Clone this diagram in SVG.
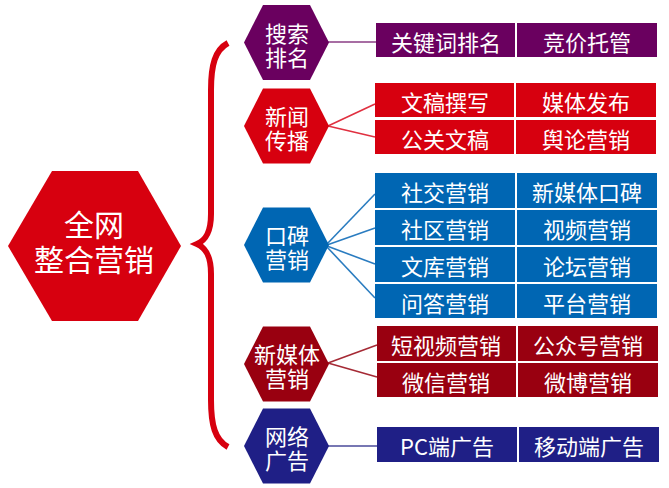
<svg xmlns="http://www.w3.org/2000/svg" width="669" height="488" viewBox="0 0 669 488">
<style>
text{font-family:"Noto Sans CJK SC","Noto Sans",sans-serif;fill:#fff;text-anchor:middle;dominant-baseline:central}
.b{font-size:22px}
.h{font-size:22px}
.m{font-size:30px}
.pur{fill:#6a005f}
.red{fill:#d7000f}
.blu{fill:#0066b3}
.drd{fill:#990010}
.nav{fill:#1f1f86}
#connectors line{stroke-width:1.6}
</style>
<rect width="669" height="488" fill="#fff"/>
<g id="connectors">
<path d="M228,43 C215,50 211,65 211,90 L211,214 C211,232 206,240 197,244 C206,248 211,256 211,274 L211,400 C211,425 215,440 228,447" fill="none" stroke="#d7000f" stroke-width="6"/>
<line x1="328" y1="42" x2="376" y2="42" stroke="#8a3d84"/>
<line x1="328" y1="126" x2="375" y2="104" stroke="#e03040"/>
<line x1="328" y1="126" x2="375" y2="137" stroke="#e03040"/>
<line x1="327" y1="244" x2="375" y2="194" stroke="#2a7cc0"/>
<line x1="327" y1="245" x2="375" y2="228" stroke="#2a7cc0"/>
<line x1="327" y1="246" x2="375" y2="264" stroke="#2a7cc0"/>
<line x1="327" y1="247" x2="375" y2="298" stroke="#2a7cc0"/>
<line x1="328" y1="363" x2="377" y2="345" stroke="#a52a35"/>
<line x1="328" y1="363" x2="377" y2="377" stroke="#a52a35"/>
<line x1="328" y1="446" x2="377" y2="446" stroke="#4a4a9a"/>
</g>
<g id="main">
<polygon class="red" points="8,246 52,171 138,171 181,246 138,321 52,321"/>
<text class="m" x="94" y="222.5">全网<tspan x="94" dy="35.5">整合营销</tspan></text>
</g>
<g id="search">
<polygon class="pur" points="244,42.5 263,5 310,5 329,42.5 310,80 263,80"/>
<text class="h" x="287" y="31.5">搜索<tspan x="287" dy="24">排名</tspan></text>
</g>
<g id="news">
<polygon class="red" points="244,126 263,88.5 310,88.5 329,126 310,163.5 263,163.5"/>
<text class="h" x="287" y="115">新闻<tspan x="287" dy="24">传播</tspan></text>
</g>
<g id="wom">
<polygon class="blu" points="244,245 263,207.5 310,207.5 329,245 310,282.5 263,282.5"/>
<text class="h" x="287" y="234">口碑<tspan x="287" dy="24">营销</tspan></text>
</g>
<g id="newmedia">
<polygon class="drd" points="244,364 263,326.5 310,326.5 329,364 310,401.5 263,401.5"/>
<text class="h" x="287" y="353">新媒体<tspan x="287" dy="24">营销</tspan></text>
</g>
<g id="netad">
<polygon class="nav" points="244,446 263,408.5 310,408.5 329,446 310,483.5 263,483.5"/>
<text class="h" x="287" y="435">网络<tspan x="287" dy="24">广告</tspan></text>
</g>
<g id="b-keyword"><rect class="pur" x="376" y="23" width="139" height="34"/><text class="b" x="446" y="41">关键词排名</text></g>
<g id="b-bid"><rect class="pur" x="517" y="23" width="140" height="34"/><text class="b" x="587" y="41">竞价托管</text></g>
<g id="b-write"><rect class="red" x="375" y="83" width="139" height="34"/><text class="b" x="445" y="101">文稿撰写</text></g>
<g id="b-publish"><rect class="red" x="516" y="83" width="140" height="34"/><text class="b" x="586" y="101">媒体发布</text></g>
<g id="b-pr"><rect class="red" x="375" y="120" width="139" height="34"/><text class="b" x="445" y="138">公关文稿</text></g>
<g id="b-opinion"><rect class="red" x="516" y="120" width="140" height="34"/><text class="b" x="586" y="138">舆论营销</text></g>
<g id="b-social"><rect class="blu" x="375" y="173" width="140" height="35"/><text class="b" x="445" y="191">社交营销</text></g>
<g id="b-nmwom"><rect class="blu" x="517" y="173" width="140" height="35"/><text class="b" x="587" y="191">新媒体口碑</text></g>
<g id="b-community"><rect class="blu" x="375" y="210" width="140" height="35"/><text class="b" x="445" y="228">社区营销</text></g>
<g id="b-video"><rect class="blu" x="517" y="210" width="140" height="35"/><text class="b" x="587" y="228">视频营销</text></g>
<g id="b-library"><rect class="blu" x="375" y="247" width="140" height="35"/><text class="b" x="445" y="265">文库营销</text></g>
<g id="b-forum"><rect class="blu" x="517" y="247" width="140" height="35"/><text class="b" x="587" y="265">论坛营销</text></g>
<g id="b-qa"><rect class="blu" x="375" y="284" width="140" height="34"/><text class="b" x="445" y="302">问答营销</text></g>
<g id="b-platform"><rect class="blu" x="517" y="284" width="140" height="34"/><text class="b" x="587" y="302">平台营销</text></g>
<g id="b-short"><rect class="drd" x="377" y="326" width="139" height="35"/><text class="b" x="446" y="344">短视频营销</text></g>
<g id="b-official"><rect class="drd" x="518" y="326" width="140" height="35"/><text class="b" x="588" y="344">公众号营销</text></g>
<g id="b-wechat"><rect class="drd" x="377" y="363" width="139" height="34"/><text class="b" x="446" y="381">微信营销</text></g>
<g id="b-weibo"><rect class="drd" x="518" y="363" width="140" height="34"/><text class="b" x="588" y="381">微博营销</text></g>
<g id="b-pc"><rect class="nav" x="377" y="427" width="140" height="35"/><text class="b" x="447" y="445">PC端广告</text></g>
<g id="b-mobile"><rect class="nav" x="519" y="427" width="140" height="35"/><text class="b" x="589" y="445">移动端广告</text></g>
</svg>
